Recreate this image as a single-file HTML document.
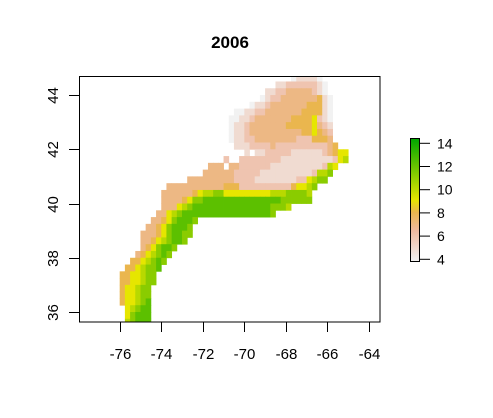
<!DOCTYPE html>
<html><head><meta charset="utf-8"><style>
body{margin:0;background:#fff;}
svg{display:block;font-family:"Liberation Sans",Arial,sans-serif;}
</style></head><body>
<svg id="chart" width="493" height="418" xmlns="http://www.w3.org/2000/svg">
<defs>
<clipPath id="plotclip"><rect x="79" y="76" width="301" height="246"/></clipPath>
<linearGradient id="leggrad" x1="0" y1="1" x2="0" y2="0">
<stop offset="0" stop-color="#F2F2F2"/><stop offset="0.25" stop-color="#EEB99F"/><stop offset="0.4" stop-color="#EAB64E"/><stop offset="0.5" stop-color="#E6E600"/><stop offset="1" stop-color="#00A600"/>
</linearGradient>
</defs>
<text x="230" y="48" text-anchor="middle" font-size="17" font-weight="bold">2006</text>
<g id="cells" clip-path="url(#plotclip)"></g>
<rect x="79.5" y="76.5" width="300.5" height="245.5" fill="none" stroke="#000" stroke-width="1"/>
<g id="xaxis"></g>
<g id="yaxis"></g>
<g id="legend">
<rect x="410.5" y="138.5" width="9" height="123" fill="url(#leggrad)" stroke="#000" stroke-width="1"/>
</g>
</svg>
<script>
// longitude/latitude ticks
const xTicks = [-76, -74, -72, -70, -68, -66, -64];
const yTicks = [36, 38, 40, 42, 44];
const legendTicks = [4, 6, 8, 10, 12, 14];
// raster: 0.25 degree cells; each row = [startColumn, values]; '.'=NA, 4-9, a=10 ... e=14
const gridLon0 = -76.5;
const gridLatTop = 44.75;
const cellDeg = 0.25;
const rowStarts = [35,32,30,29,27,24,23,23,23,23,24,26,22,19,18,15,11,10,10,10,9,8,7,6,6,6,5,4,3,2,2,2,2,2,3,3,3];
const rowValues = [
"455554",
"5566666654",
"556677777654",
"45667777777854",
"4556777777788854",
"4455667777777888854",
"44556777777788889654",
"45567777777888889765",
"45567777777777889876",
"45566777777776668887",
"55566667666666666678",
"5.556666655555567899",
"6..66666666555555555569a",
"777.7766666655555555556a9",
"7777776666655555555556aab",
"777777777666655555555669abb",
"77777777777888666666666689 9ab".replace(" ",""),
"77777789aabb999999999aaabbbba",
"777789bbcccccccccccccccbbbbbb",
"7779abcccccccccccccccbbba",
"779abcccccccccccccccccb",
"7789bcccb",
"7789bcccb",
"77789bccbb",
"7789abccb",
"789bccb",
"789abcb",
"889abcb",
"889abbc",
"8899abb",
"8899abb",
"899abb",
"899abb",
"899abc",
"9abcc",
"9bccc",
"abccc"
];
const vMin = 4, vMax = 14;
const NS = "http://www.w3.org/2000/svg";
function xScale(lon){ return 119.7 + (lon + 76) * 20.77; }
function yScale(lat){ return 312 - (lat - 36) * 27.12; }
const stops = [[0,[242,242,242]],[0.25,[238,185,159]],[0.4,[234,182,78]],[0.5,[230,230,0]],[1,[0,166,0]]];
function color(v){
  let t = Math.max(0, Math.min(1, (v - vMin) / (vMax - vMin)));
  for (let i = 1; i < stops.length; i++) {
    if (t <= stops[i][0]) {
      const a = stops[i-1], b = stops[i];
      const f = (t - a[0]) / (b[0] - a[0]);
      const c = a[1].map((x, k) => Math.round(x + (b[1][k] - x) * f));
      return "rgb(" + c.join(",") + ")";
    }
  }
  return "rgb(0,166,0)";
}
const cellsG = document.getElementById("cells");
for (let r = 0; r < rowValues.length; r++) {
  const s = rowValues[r];
  for (let i = 0; i < s.length; i++) {
    const ch = s[i];
    if (ch === ".") continue;
    const v = parseInt(ch, 16);
    const c = rowStarts[r] + i;
    const lon = gridLon0 + c * cellDeg;
    const lat = gridLatTop - r * cellDeg;
    const x0 = xScale(lon), x1 = xScale(lon + cellDeg);
    const y0 = yScale(lat), y1 = yScale(lat - cellDeg);
    const rect = document.createElementNS(NS, "rect");
    
    
    rect.setAttribute("x", x0.toFixed(2));
    rect.setAttribute("y", y0.toFixed(2));
    rect.setAttribute("width", (x1 - x0 + 0.4).toFixed(2));
    rect.setAttribute("height", (y1 - y0 + 0.4).toFixed(2));
    rect.setAttribute("fill", color(v));
    cellsG.appendChild(rect);
  }
}
const xg = document.getElementById("xaxis");
xTicks.forEach(t => {
  const x = Math.round(xScale(t)) + 0.5;
  const l = document.createElementNS(NS, "line");
  
  
  l.setAttribute("x1", x); l.setAttribute("x2", x);
  l.setAttribute("y1", 322); l.setAttribute("y2", 332);
  l.setAttribute("stroke", "#000");
  xg.appendChild(l);
  const tx = document.createElementNS(NS, "text");
  
  
  tx.setAttribute("x", x); tx.setAttribute("y", 359);
  tx.setAttribute("text-anchor", "middle");
  tx.setAttribute("font-size", "15");
  tx.textContent = t;
  xg.appendChild(tx);
});
const yg = document.getElementById("yaxis");
yTicks.forEach(t => {
  const y = Math.round(yScale(t)) + 0.5;
  const l = document.createElementNS(NS, "line");
  
  
  l.setAttribute("x1", 69); l.setAttribute("x2", 79);
  l.setAttribute("y1", y); l.setAttribute("y2", y);
  l.setAttribute("stroke", "#000");
  yg.appendChild(l);
  const tx = document.createElementNS(NS, "text");
  
  
  tx.setAttribute("x", 58); tx.setAttribute("y", y);
  tx.setAttribute("text-anchor", "middle");
  tx.setAttribute("font-size", "15");
  tx.setAttribute("transform", "rotate(-90 58 " + y + ")");
  tx.textContent = t;
  yg.appendChild(tx);
});
const lg = document.getElementById("legend");
legendTicks.forEach(t => {
  const y = 259.3 - (t - vMin) * 11.6;
  const l = document.createElementNS(NS, "line");
  
  
  l.setAttribute("x1", 420); l.setAttribute("x2", 430);
  l.setAttribute("y1", y); l.setAttribute("y2", y);
  l.setAttribute("stroke", "#000");
  lg.appendChild(l);
  const tx = document.createElementNS(NS, "text");
  
  
  tx.setAttribute("x", 437); tx.setAttribute("y", y + 5);
  tx.setAttribute("font-size", "14");
  tx.textContent = t;
  lg.appendChild(tx);
});
</script>
</body></html>
